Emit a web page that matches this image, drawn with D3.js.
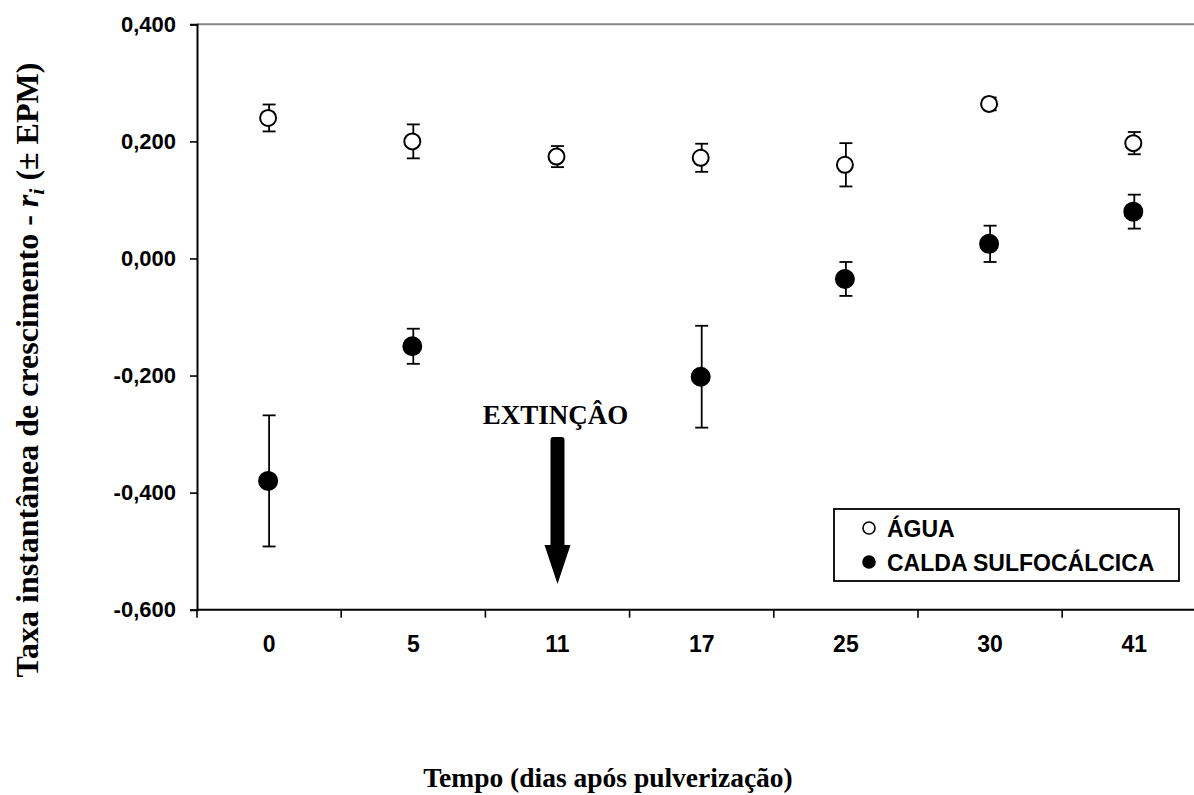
<!DOCTYPE html>
<html>
<head>
<meta charset="utf-8">
<script src="https://cdn.jsdelivr.net/npm/d3@7"></script>
<style>
  body { margin: 0; background: #fff; }
  svg { display: block; }
</style>
</head>
<body>
<div id="chart"></div>
<script>
const width = 1194, height = 795;

// data
const days = ["0", "5", "11", "17", "25", "30", "41"];
const aguaMean = [0.240, 0.200, 0.174, 0.172, 0.160, 0.264, 0.197];
const aguaErr  = [0.023, 0.029, 0.018, 0.024, 0.037, 0.011, 0.019];
const caldaMean = [-0.380, -0.150, null, -0.202, -0.035, 0.025, 0.080];
const caldaErr  = [0.112, 0.030, null, 0.087, 0.029, 0.031, 0.029];
const yTicks = [-0.6, -0.4, -0.2, 0.0, 0.2, 0.4];

const plotLeft = 197, plotTop = 24.3, plotBottom = 609.7, band = 144.2;

let x = d3.scaleBand().domain(days).range([plotLeft, plotLeft + band * days.length]);
let y = d3.scaleLinear().domain([-0.6, 0.4]).range([plotBottom, plotTop]);

let svg = d3.select("#chart").append("svg")
    .attr("width", width)
    .attr("height", height);

const fmt = v => d3.format(".3f")(v).replace(".", ",").replace("−", "-");

// top frame line (gray)
svg.append("line")
    .attr("x1", plotLeft).attr("x2", width)
    .attr("y1", y(0.4)).attr("y2", y(0.4))
    .attr("stroke", "#888").attr("stroke-width", 2);

// y axis
let yAxis = svg.append("g")
    .attr("transform", `translate(${plotLeft},0)`)
    .call(d3.axisLeft(y).tickValues(yTicks).tickFormat(fmt).tickSizeOuter(0).tickSize(7).tickPadding(14));
yAxis.select(".domain").attr("stroke", "#000").attr("stroke-width", 2);
yAxis.selectAll(".tick line").attr("stroke", "#000").attr("stroke-width", 1.6);
yAxis.selectAll(".tick text")
    .attr("font-family", "Liberation Sans, Arial, sans-serif")
    .attr("font-weight", "bold")
    .attr("font-size", 22)
    .attr("fill", "#000");

// x axis: ticks at band edges, labels at centres
let xAxisG = svg.append("g");
xAxisG.append("line")
    .attr("x1", plotLeft).attr("x2", width)
    .attr("y1", plotBottom).attr("y2", plotBottom)
    .attr("stroke", "#000").attr("stroke-width", 2);
xAxisG.selectAll(".xtick")
    .data(days)
    .enter().append("line")
    .attr("class", "xtick")
    .attr("x1", d => x(d)).attr("x2", d => x(d))
    .attr("y1", plotBottom).attr("y2", plotBottom + 8)
    .attr("stroke", "#000").attr("stroke-width", 1.6);
xAxisG.selectAll(".xlabel")
    .data(days)
    .enter().append("text")
    .attr("class", "xlabel")
    .attr("x", d => x(d) + x.bandwidth() / 2)
    .attr("y", 652)
    .attr("text-anchor", "middle")
    .attr("font-family", "Liberation Sans, Arial, sans-serif")
    .attr("font-weight", "bold")
    .attr("font-size", 23)
    .text(d => d);

// error bars + points
function drawSeries(mean, err, fill, cls) {
    let pts = days.map((d, i) => ({ day: d, m: mean[i], e: err[i] }))
        .filter(p => p.m !== null);
    let cx = p => x(p.day) + x.bandwidth() / 2;
    let g = svg.append("g").attr("class", cls);
    let eb = g.selectAll(".eb").data(pts).enter().append("g")
        .attr("stroke", "#000").attr("stroke-width", 1.8);
    eb.append("line")
        .attr("x1", cx).attr("x2", cx)
        .attr("y1", p => y(p.m + p.e)).attr("y2", p => y(p.m - p.e));
    eb.append("line")
        .attr("x1", p => cx(p) - 6.5).attr("x2", p => cx(p) + 6.5)
        .attr("y1", p => y(p.m + p.e)).attr("y2", p => y(p.m + p.e));
    eb.append("line")
        .attr("x1", p => cx(p) - 6.5).attr("x2", p => cx(p) + 6.5)
        .attr("y1", p => y(p.m - p.e)).attr("y2", p => y(p.m - p.e));
    g.selectAll("circle").data(pts).enter().append("circle")
        .attr("cx", p => cx(p) - 1)
        .attr("cy", p => y(p.m))
        .attr("r", fill === "#000" ? 9 : 8)
        .attr("fill", fill)
        .attr("stroke", "#000")
        .attr("stroke-width", 2);
}
drawSeries(aguaMean, aguaErr, "#fff", "agua");
drawSeries(caldaMean, caldaErr, "#000", "calda");

// extinction annotation at day 11
const ax = x("11") + x.bandwidth() / 2;
svg.append("text")
    .attr("x", ax - 2).attr("y", 424)
    .attr("text-anchor", "middle")
    .attr("font-family", "Liberation Serif, Times New Roman, serif")
    .attr("font-weight", "bold")
    .attr("font-size", 27)
    .text("EXTINÇÂO");
svg.append("path")
    .attr("d", `M${ax - 7},440 Q${ax - 7},437 ${ax - 4},437 L${ax + 4},437 Q${ax + 7},437 ${ax + 7},440
                L${ax + 7},545 L${ax + 13},545 L${ax},584 L${ax - 13},545 L${ax - 7},545 Z`)
    .attr("fill", "#000");

// legend
let legend = svg.append("g");
legend.append("rect")
    .attr("x", 834).attr("y", 509)
    .attr("width", 345).attr("height", 72)
    .attr("fill", "#fff").attr("stroke", "#000").attr("stroke-width", 1.8);
const legendItems = ["ÁGUA", "CALDA SULFOCÁLCICA"];
const legendFill = ["#fff", "#000"];
legend.selectAll(".li").data(legendItems).enter().append("g")
    .attr("transform", (d, i) => `translate(869,${528 + i * 34})`)
    .each(function(d, i) {
        let g = d3.select(this);
        g.append("circle").attr("r", 6).attr("fill", legendFill[i])
            .attr("stroke", "#000").attr("stroke-width", 1.6);
        g.append("text").attr("x", 18).attr("y", 8.5)
            .attr("font-family", "Liberation Sans, Arial, sans-serif")
            .attr("font-weight", "bold")
            .attr("font-size", 23)
            .text(d);
    });

// axis titles
svg.append("text")
    .attr("x", 608).attr("y", 787)
    .attr("text-anchor", "middle")
    .attr("font-family", "Liberation Serif, Times New Roman, serif")
    .attr("font-weight", "bold")
    .attr("font-size", 27.5)
    .text("Tempo (dias após pulverização)");

let yt = svg.append("text")
    .attr("transform", "translate(38,370) rotate(-90)")
    .attr("text-anchor", "middle")
    .attr("font-family", "Liberation Serif, Times New Roman, serif")
    .attr("font-weight", "bold")
    .attr("font-size", 32);
yt.append("tspan").text("Taxa instantânea de crescimento - ");
yt.append("tspan").attr("font-style", "italic").text("r");
yt.append("tspan").attr("font-style", "italic").attr("font-size", 22).attr("dy", 6).text("i");
yt.append("tspan").attr("dy", -6).text(" (± EPM)");
</script>
</body>
</html>
